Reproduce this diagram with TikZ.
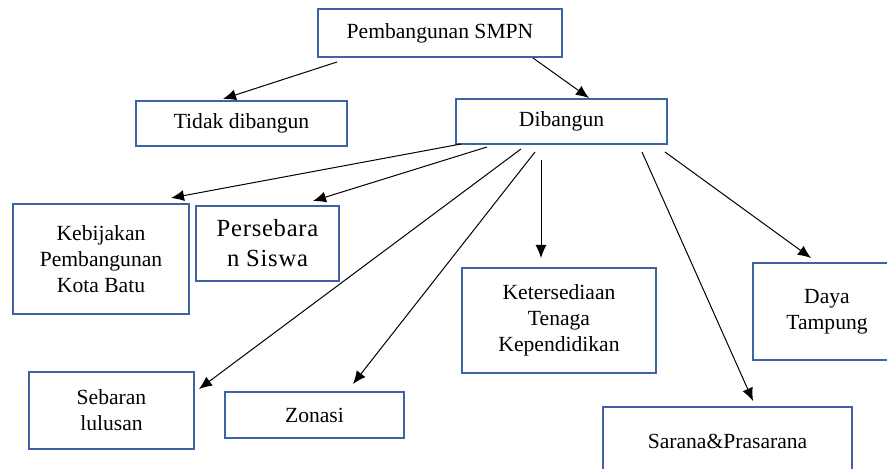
\documentclass[tikz,border=0pt]{standalone}
\usepackage{fontspec}
\setmainfont{Liberation Serif}
\newfontfamily\widefont[LetterSpace=3]{Liberation Serif}
\usetikzlibrary{calc,arrows.meta}
\definecolor{boxblue}{RGB}{62,98,165}
\begin{document}
\begin{tikzpicture}[x=0.5pt,y=-0.5pt,
		box/.style={draw=boxblue, line width=1pt, align=center, inner sep=0pt, font=\fontsize{10.8}{13}\selectfont},
		arr/.style={->, >={Latex[length=6.5pt,width=5.5pt]}, line width=0.5pt}]
			\useasboundingbox (0,0) rectangle (887,469);
			\clip (0,0) rectangle (887,469);
			\node[box, minimum width=122pt, minimum height=24pt] (top) at (440,33) {Pembangunan SMPN};
			\node[box, minimum width=105.5pt, minimum height=22.5pt] (tidak) at (241.5,123.5) {Tidak dibangun};
			\node[box, minimum width=105.5pt, minimum height=22.5pt] (dib) at (561.5,121.5) {Dibangun};
			\node[box, minimum width=88pt, minimum height=55pt] (keb) at (101,259) {Kebijakan\\Pembangunan\\Kota Batu};
			\node[box, minimum width=71.5pt, minimum height=37.5pt, font=\widefont\fontsize{12.3}{15}\selectfont] (pers) at (267.5,243.5) {Persebara\\n Siswa};
			\node[box, minimum width=82.5pt, minimum height=38.5pt] (seb) at (111.5,410.5) {Sebaran\\lulusan};
			\node[box, minimum width=89.5pt, minimum height=23pt] (zon) at (314.5,415) {Zonasi};
			\node[box, minimum width=97pt, minimum height=52.5pt] (ket) at (559,320.5) {Ketersediaan\\Tenaga\\Kependidikan};
			\node[box, minimum width=74pt, minimum height=48.5pt] (daya) at (827,311.5) {Daya\\Tampung};
			\node[box, minimum width=124.5pt, minimum height=34pt] (sar) at (727.5,441) {Sarana\&Prasarana};
			% cabang pertama
			\draw[arr] ($(top.south west)+(20,4)$) -- ($(tidak.north)+(-18.5,-1)$);
			\draw[arr] ($(top.south east)+(-30,0)$) -- ($(dib.north)+(27.5,0)$);
			% faktor pembangunan
			\draw[arr] ($(dib.south west)+(6,-1)$) -- ($(keb.north east)+(-19,-5)$);
			\draw[arr] ($(dib.south west)+(32,2)$) -- ($(pers.north east)+(-27,-4)$);
			\draw[arr] ($(dib.south west)+(66,4)$) -- ($(seb.north east)+(4,18)$);
			\draw[arr] ($(dib.south west)+(80,7)$) -- ($(zon.north)+(38.5,-7)$);
			\draw[arr] ($(dib.south)+(-20.5,15)$) -- ($(ket.north)+(-18,-9)$);
			\draw[arr] ($(dib.south east)+(-26,7)$) -- ($(sar.north)+(25.5,-5)$);
			\draw[arr] ($(dib.south east)+(-3,7)$) -- ($(daya.north)+(-16,-4)$);
		\end{tikzpicture}
\end{document}
